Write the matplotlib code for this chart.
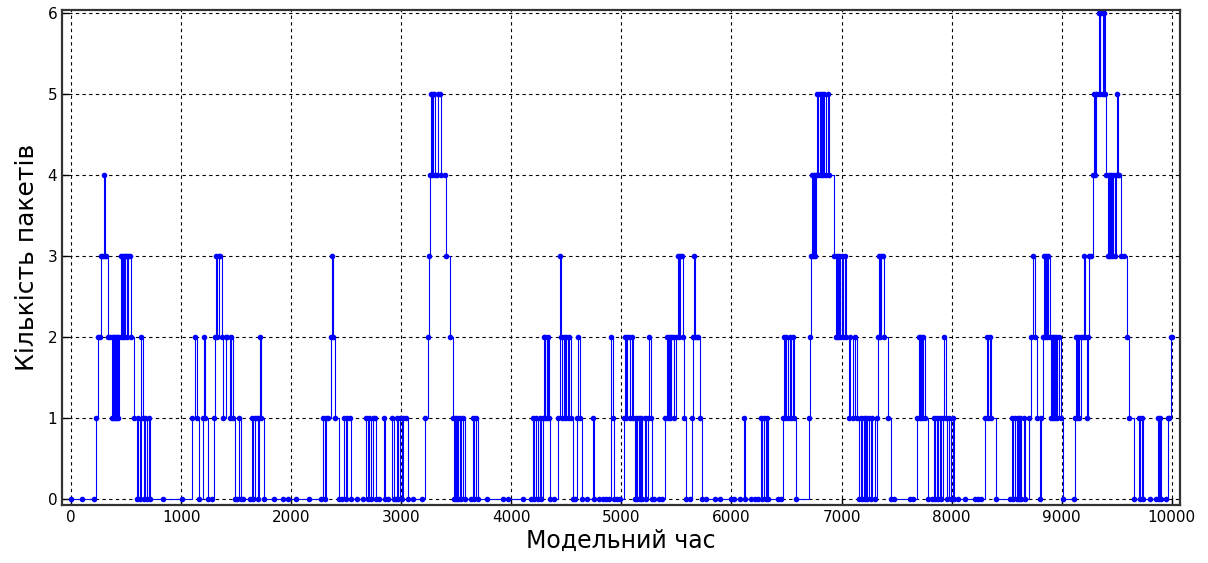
import numpy as np
import matplotlib.pyplot as plt

# Моменти подій (модельний час) та кількість пакетів після події
times = [
    0, 100, 210, 230, 245, 260, 270, 290, 300, 308, 320, 335, 355, 370, 378, 385, 392, 398, 405, 412,
    420, 430, 440, 450, 460, 470, 480, 490, 500, 510, 520, 535, 545, 570, 595, 610, 625, 640, 650, 660,
    675, 690, 705, 715, 840,
    1010, 1100, 1125, 1145, 1165, 1195, 1205, 1220, 1240, 1280, 1295, 1305, 1315, 1330, 1340, 1355,
    1370, 1385, 1405, 1420, 1440, 1455, 1470, 1490, 1510, 1525, 1540, 1560, 1630, 1645, 1655, 1670,
    1690, 1700, 1710, 1720, 1730, 1750, 1840, 1930, 1975,
    2040, 2160, 2270, 2290, 2305, 2320, 2335, 2360, 2370, 2380, 2400, 2430, 2460, 2480, 2495, 2510,
    2530, 2545, 2600, 2650, 2680, 2695, 2710, 2725, 2740, 2760, 2775, 2800, 2840, 2850, 2880, 2920,
    2930, 2950, 2965, 2975, 2990, 3005, 3020, 3040, 3060, 3110, 3190,
    3220, 3240, 3250, 3260, 3270, 3280, 3290, 3300, 3310, 3325, 3335, 3350, 3360, 3400, 3410, 3440,
    3470, 3480, 3490, 3500, 3510, 3520, 3530, 3545, 3560, 3575, 3630, 3650, 3665, 3680, 3700, 3780,
    3920, 3970,
    4110, 4180, 4195, 4210, 4225, 4240, 4260, 4270, 4285, 4295, 4305, 4310, 4320, 4330, 4340, 4350,
    4385, 4420, 4440, 4450, 4460, 4475, 4490, 4500, 4515, 4525, 4540, 4560, 4580, 4600, 4610, 4625,
    4640, 4690, 4740, 4750, 4800, 4830, 4860, 4890, 4910, 4920, 4935, 4960, 4990,
    5020, 5030, 5045, 5055, 5070, 5080, 5095, 5105, 5120, 5135, 5145, 5160, 5170, 5180, 5190, 5210,
    5220, 5240, 5250, 5265, 5280, 5300, 5340, 5370, 5395, 5410, 5420, 5430, 5440, 5450, 5465, 5480,
    5500, 5510, 5525, 5535, 5550, 5560, 5570, 5590, 5620, 5640, 5650, 5660, 5670, 5690, 5700, 5710,
    5730, 5770, 5850, 5900, 6000,
    6020, 6080, 6110, 6120, 6180, 6210, 6240, 6270, 6280, 6300, 6310, 6320, 6335, 6420, 6450, 6470,
    6480, 6490, 6500, 6510, 6530, 6545, 6560, 6570, 6590, 6700, 6710, 6720, 6730, 6740, 6750, 6760,
    6770, 6780, 6790, 6800, 6810, 6820, 6830, 6845, 6860, 6880, 6890, 6930, 6950, 6960, 6970, 6980,
    6990, 7000, 7010, 7030, 7045, 7070,
    7080, 7100, 7120, 7140, 7160, 7175, 7185, 7200, 7210, 7225, 7235, 7250, 7265, 7280, 7300, 7320,
    7330, 7340, 7350, 7360, 7375, 7390, 7420, 7450, 7480, 7620, 7650, 7690, 7700, 7710, 7720, 7730,
    7740, 7755, 7790, 7820, 7840, 7850, 7870, 7880, 7895, 7905, 7920, 7935, 7945, 7960, 7980, 7990,
    8010, 8020, 8060, 8120, 8210, 8240, 8270, 8300, 8320, 8335, 8345, 8360, 8400, 8530, 8550, 8560,
    8580, 8590, 8600, 8610, 8620, 8630, 8660, 8670, 8700, 8720, 8740, 8760, 8780, 8800, 8810, 8830,
    8840, 8850, 8860, 8870, 8880, 8890, 8900, 8910, 8920, 8930, 8940, 8950, 8960, 8975, 8990,
    9010, 9110, 9120, 9130, 9140, 9150, 9160, 9175, 9190, 9200, 9210, 9230, 9240, 9250, 9270, 9285,
    9290, 9300, 9310, 9320, 9335, 9345, 9350, 9360, 9375, 9385, 9395, 9405, 9420, 9430, 9440, 9450,
    9460, 9470, 9480, 9495, 9505, 9515, 9525, 9540, 9570, 9590, 9615, 9655, 9700, 9710, 9730, 9740,
    9800, 9860, 9875, 9885, 9895, 9905, 9950, 9965, 9975, 9990, 10000,
]
packets = [
    0, 0, 0, 1, 2, 2, 3, 3, 4, 3, 3, 2, 2, 1, 2, 1, 2, 1, 2, 1,
    2, 1, 2, 3, 2, 3, 2, 3, 3, 2, 3, 3, 2, 1, 0, 1, 0, 2, 1, 0,
    1, 0, 1, 0, 0,
    0, 1, 2, 1, 0, 1, 2, 1, 0, 0, 1, 2, 3, 2, 3, 3,
    2, 1, 2, 2, 1, 2, 1, 0, 0, 1, 0, 0, 0, 1, 0, 1,
    1, 0, 1, 2, 1, 0, 0, 0, 0,
    0, 0, 0, 1, 0, 1, 1, 2, 3, 2, 1, 0, 0, 1, 0, 1,
    1, 0, 0, 0, 1, 0, 1, 0, 1, 1, 0, 0, 1, 0, 0, 1,
    0, 0, 1, 0, 1, 0, 1, 1, 0, 0, 0,
    1, 2, 3, 4, 5, 4, 5, 5, 4, 4, 5, 5, 4, 4, 3, 2,
    1, 0, 1, 0, 1, 0, 1, 0, 1, 0, 0, 1, 0, 1, 0, 0,
    0, 0,
    0, 0, 1, 0, 1, 0, 1, 0, 1, 2, 1, 2, 1, 2, 1, 0,
    0, 1, 3, 2, 1, 2, 1, 2, 1, 2, 1, 0, 0, 1, 2, 1,
    0, 0, 1, 0, 0, 0, 0, 0, 2, 1, 0, 0, 0,
    1, 2, 1, 2, 2, 1, 2, 1, 0, 1, 0, 1, 0, 1, 0, 1,
    0, 1, 2, 1, 0, 0, 0, 0, 1, 2, 1, 2, 1, 2, 2, 1,
    2, 3, 2, 3, 3, 2, 1, 0, 0, 1, 2, 3, 2, 2, 2, 1,
    0, 0, 0, 0, 0,
    0, 0, 1, 0, 0, 0, 0, 1, 0, 1, 0, 1, 0, 0, 0, 1,
    2, 1, 2, 1, 2, 1, 2, 1, 0, 1, 2, 3, 4, 3, 4, 3,
    4, 5, 4, 5, 4, 5, 4, 5, 4, 5, 4, 3, 2, 3, 2, 3,
    2, 3, 2, 3, 2, 1,
    2, 1, 2, 1, 0, 1, 0, 1, 0, 1, 0, 1, 0, 1, 0, 1,
    2, 3, 2, 3, 3, 2, 1, 0, 0, 0, 0, 1, 2, 1, 2, 1,
    2, 1, 0, 0, 1, 0, 1, 0, 1, 0, 1, 2, 1, 0, 1, 0,
    1, 0, 0, 0, 0, 0, 0, 1, 2, 1, 2, 1, 0, 0, 1, 0,
    1, 0, 1, 0, 1, 0, 1, 0, 1, 2, 3, 2, 1, 0, 1, 2,
    3, 2, 3, 2, 3, 2, 1, 2, 1, 2, 1, 2, 1, 2, 1,
    0, 0, 1, 2, 1, 2, 1, 2, 2, 3, 2, 1, 2, 3, 3, 4,
    5, 4, 5, 5, 6, 5, 6, 6, 5, 6, 5, 4, 3, 4, 3, 4,
    3, 4, 3, 4, 5, 4, 4, 3, 3, 2, 1, 0, 1, 0, 1, 0,
    0, 0, 1, 0, 1, 0, 0, 1, 1, 2, 2,
]

x_ticks = np.arange(0, 10001, 1000)
y_ticks = np.arange(0, 7, 1)

fig = plt.figure(figsize=(12.08, 5.63), dpi=100)
ax = fig.add_axes([62 / 1208, 58 / 563, 1118 / 1208, 495 / 563])

# Східчастий графік з маркерами у точках подій
ax.step(times, packets, where='post', color='blue', linewidth=0.8,
        marker='.', markersize=6)

ax.set_xlim(-82, 10075)
ax.set_ylim(-0.07, 6.04)
ax.set_xticks(x_ticks)
ax.set_yticks(y_ticks)
ax.tick_params(direction='in', length=5, labelsize=11, width=1)

# Пунктирна сітка
ax.grid(True, color='black', linestyle=(0, (3, 3)), linewidth=0.8)
for s in ax.spines.values():
    s.set_linewidth(1.6)
    s.set_color('#333333')

ax.set_xlabel('Модельний час', fontsize=17, labelpad=3)
ax.set_ylabel('Кількість пакетів', fontsize=18, labelpad=6)

fig.savefig('out.png', dpi=100)
